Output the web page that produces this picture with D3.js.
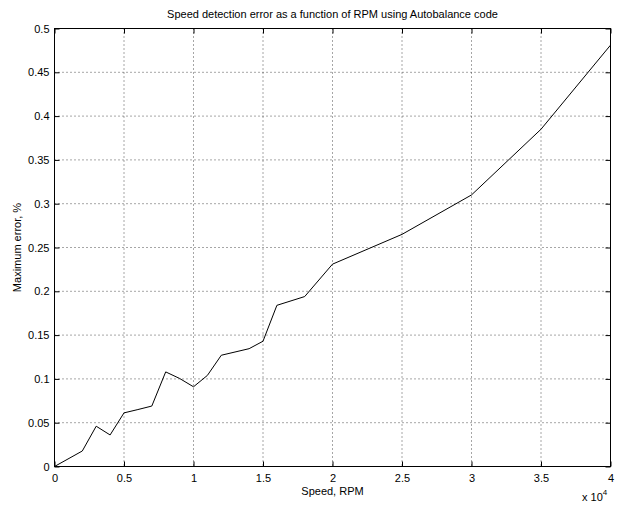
<!DOCTYPE html>
<html>
<head>
<meta charset="utf-8">
<script src="https://cdn.jsdelivr.net/npm/d3@7"></script>
<style>
	body { margin: 0; background: #fff; }
	text { font-family: "Liberation Sans", Arial, sans-serif; fill: #000; }
</style>
</head>
<body>
<svg id="chart" width="622" height="505"></svg>
<script>
// speed in RPM, max error in %
var speeds = [0, 2000, 3000, 4000, 5000, 6000, 7000, 8000, 9000, 10000, 11000, 12000,
		14000, 15000, 16000, 18000, 20000, 25000, 30000, 35000, 40000],
	errors = [0, 0.0177, 0.046, 0.036, 0.0612, 0.065, 0.069, 0.108, 0.1005, 0.091, 0.104, 0.127,
		0.1345, 0.143, 0.184, 0.194, 0.231, 0.265, 0.31, 0.385, 0.481],
	xTicks = [0, 5000, 10000, 15000, 20000, 25000, 30000, 35000, 40000],
	xTickLabels = ['0', '0.5', '1', '1.5', '2', '2.5', '3', '3.5', '4'],
	yTicks = [0, 0.05, 0.1, 0.15, 0.2, 0.25, 0.3, 0.35, 0.4, 0.45, 0.5],
	yTickLabels = ['0', '0.05', '0.1', '0.15', '0.2', '0.25', '0.3', '0.35', '0.4', '0.45', '0.5'];

var svg = d3.select('#chart'),
	margin = {top: 28.5, right: 11.5, bottom: 38.5, left: 54.5},
	width = 622 - margin.left - margin.right,
	height = 505 - margin.top - margin.bottom,
	x = d3.scaleLinear().domain([0, 40000]).range([0, width]),
	y = d3.scaleLinear().domain([0, 0.5]).range([height, 0]),
	g = svg.append('g').attr('transform', 'translate(' + margin.left + ',' + margin.top + ')'),
	line = d3.line()
		.x(function(d, i) { return x(speeds[i]); })
		.y(function(d) { return y(d); });

// dotted grid
g.append('g')
	.selectAll('line')
	.data(xTicks.slice(1, -1))
	.enter().append('line')
		.attr('x1', function(d) { return x(d); })
		.attr('x2', function(d) { return x(d); })
		.attr('y1', 0)
		.attr('y2', height)
		.attr('stroke', '#000')
		.attr('stroke-width', 0.7)
		.attr('stroke-dasharray', '1,3');

g.append('g')
	.selectAll('line')
	.data(yTicks.slice(1, -1))
	.enter().append('line')
		.attr('x1', 0)
		.attr('x2', width)
		.attr('y1', function(d) { return y(d); })
		.attr('y2', function(d) { return y(d); })
		.attr('stroke', '#000')
		.attr('stroke-width', 0.7)
		.attr('stroke-dasharray', '1,3');

// axes with inward ticks on all four sides
function styleAxis(sel) {
	sel.select('.domain').remove();
	sel.selectAll('line').attr('stroke', '#000');
	sel.selectAll('text').style('font-size', '11px').style('font-family', '"Liberation Sans", Arial, sans-serif');
}

g.append('g')
	.attr('transform', 'translate(0,' + height + ')')
	.call(d3.axisBottom(x).tickValues(xTicks).tickSize(-5).tickPadding(8)
		.tickFormat(function(d, i) { return xTickLabels[i]; }))
	.call(styleAxis);

g.append('g')
	.call(d3.axisTop(x).tickValues(xTicks).tickSize(-5).tickFormat(''))
	.call(styleAxis);

g.append('g')
	.call(d3.axisLeft(y).tickValues(yTicks).tickSize(-5).tickPadding(5)
		.tickFormat(function(d, i) { return yTickLabels[i]; }))
	.call(styleAxis);

g.append('g')
	.attr('transform', 'translate(' + width + ',0)')
	.call(d3.axisRight(y).tickValues(yTicks).tickSize(-5).tickFormat(''))
	.call(styleAxis);

g.append('rect')
	.attr('width', width)
	.attr('height', height)
	.attr('fill', 'none')
	.attr('stroke', '#000')
	.attr('stroke-width', 1);

g.append('path')
	.datum(errors)
	.attr('fill', 'none')
	.attr('stroke', '#000')
	.attr('stroke-width', 1)
	.attr('d', line);

// labels
svg.append('text')
	.attr('x', margin.left + width / 2)
	.attr('y', 18)
	.attr('text-anchor', 'middle')
	.style('font-size', '11px')
	.text('Speed detection error as a function of RPM using Autobalance code');

svg.append('text')
	.attr('x', margin.left + width / 2)
	.attr('y', 495)
	.attr('text-anchor', 'middle')
	.style('font-size', '11px')
	.text('Speed, RPM');

svg.append('text')
	.attr('transform', 'translate(21,' + (margin.top + height / 2) + ') rotate(-90)')
	.attr('text-anchor', 'middle')
	.style('font-size', '11px')
	.text('Maximum error, %');

var expo = svg.append('text')
	.attr('x', 582)
	.attr('y', 501)
	.style('font-size', '11px');
expo.append('tspan').text('x 10');
expo.append('tspan').attr('dy', -6).style('font-size', '8px').text('4');
</script>
</body>
</html>
